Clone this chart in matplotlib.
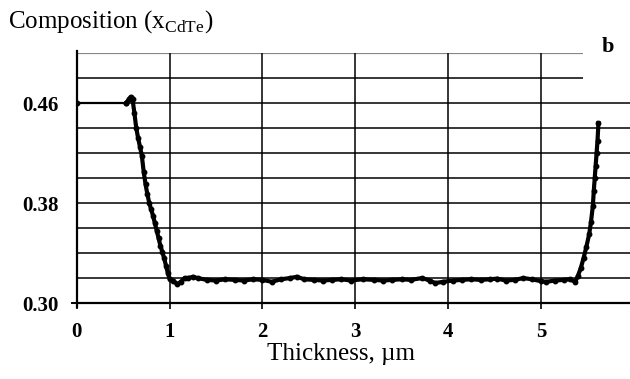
import numpy as np
import matplotlib
matplotlib.use("Agg")
import matplotlib.pyplot as plt

plt.rcParams['font.family'] = ['Liberation Serif', 'DejaVu Serif']
plt.rcParams['mathtext.fontset'] = 'custom'
plt.rcParams['mathtext.rm'] = 'Liberation Serif'

# depth profile
thickness = [0.0, 0.53, 0.56, 0.58, 0.60, 0.62, 0.64, 0.66, 0.68, 0.70, 0.72,
             0.74, 0.76, 0.78, 0.80, 0.82, 0.84, 0.86, 0.88, 0.90, 0.92, 0.94,
             0.96, 0.98, 1.00, 1.04, 1.08, 1.12, 1.16, 1.20, 1.25, 1.30, 1.40,
             1.50, 1.60, 1.70, 1.80, 1.90, 2.00, 2.10, 2.20, 2.30, 2.37, 2.45,
             2.55, 2.65, 2.75, 2.85, 2.95, 3.08, 3.20, 3.30, 3.40, 3.50, 3.60,
             3.72, 3.80, 3.86, 3.95, 4.05, 4.15, 4.25, 4.35, 4.45, 4.53, 4.62,
             4.72, 4.81, 4.90, 5.00, 5.06, 5.15, 5.25, 5.31, 5.37, 5.40, 5.43,
             5.46, 5.49, 5.52, 5.54, 5.56, 5.57, 5.58, 5.59, 5.60, 5.61, 5.62]
composition = [0.460, 0.460, 0.463, 0.465, 0.463, 0.452, 0.440, 0.432, 0.425,
               0.418, 0.405, 0.395, 0.387, 0.380, 0.375, 0.370, 0.364, 0.358,
               0.352, 0.346, 0.341, 0.336, 0.330, 0.324, 0.319, 0.318, 0.315,
               0.317, 0.320, 0.320, 0.321, 0.320, 0.3185, 0.318, 0.319, 0.3185,
               0.318, 0.319, 0.3185, 0.317, 0.319, 0.320, 0.321, 0.319, 0.3185,
               0.318, 0.3185, 0.319, 0.318, 0.319, 0.3185, 0.318, 0.3185, 0.319,
               0.3185, 0.320, 0.318, 0.316, 0.317, 0.318, 0.3185, 0.319, 0.3185,
               0.319, 0.3195, 0.318, 0.3185, 0.320, 0.319, 0.3175, 0.317, 0.318,
               0.3185, 0.319, 0.317, 0.322, 0.328, 0.336, 0.345, 0.355, 0.365,
               0.378, 0.390, 0.400, 0.410, 0.420, 0.430, 0.444]

x_ticks = [0, 1, 2, 3, 4, 5]
y_ticks = [0.30, 0.38, 0.46]
y_grid = [0.32, 0.34, 0.36, 0.38, 0.40, 0.42, 0.44, 0.46]
y_grid_short = [0.48]

fig = plt.figure(figsize=(6.3, 3.79), dpi=100)
ax = fig.add_axes([0.122, 0.2005, 0.878, 0.6595])
ax.set_xlim(0, 5.96)
ax.set_ylim(0.30, 0.50)

ax.hlines(y_grid, 0, 5.96, colors='black', lw=1.1, zorder=1)
ax.hlines(y_grid_short, 0, 5.45, colors='black', lw=1.1, zorder=1)
ax.hlines([0.50], 0, 5.45, colors='#888888', lw=1.6, zorder=1)
ax.vlines(x_ticks[1:], 0.30, 0.50, colors='black', lw=1.1, zorder=1)

# flat start sits on the grid line, drawn thin
ax.plot(thickness[:2], composition[:2], color='black', lw=1.6, marker='o', ms=3.2, zorder=3)
ax.plot(thickness[1:], composition[1:], color='black', lw=3, marker='o', ms=3.2, zorder=3)

for side in ['top', 'right']:
    ax.spines[side].set_visible(False)
ax.spines['left'].set_linewidth(1.6)
ax.spines['bottom'].set_linewidth(1.6)
ax.spines['left'].set_bounds(0.297, 0.502)

ax.set_xticks(x_ticks)
ax.set_xticklabels([str(v) for v in x_ticks], fontweight='bold', fontsize=15)
ax.tick_params(axis='x', direction='out', length=4, width=1.2, pad=10)
ax.set_yticks(y_ticks)
ax.set_yticklabels(['%.2f' % v for v in y_ticks], fontweight='bold', fontsize=15)
ax.tick_params(axis='y', direction='out', length=0, pad=13)
ax.plot([-0.05, 0], [0.30, 0.30], color='black', lw=1.4, clip_on=False)

fig.text(0.012, 0.926, r'Composition (x$_{\mathrm{CdTe}}$)', fontsize=18,
         ha='left', va='baseline')
fig.text(0.541, 0.05, 'Thickness, µm', fontsize=18, ha='center', va='baseline')
fig.text(0.965, 0.876, 'b', fontsize=16, fontweight='bold', ha='center', va='center')

fig.savefig('out.png', dpi=100)
